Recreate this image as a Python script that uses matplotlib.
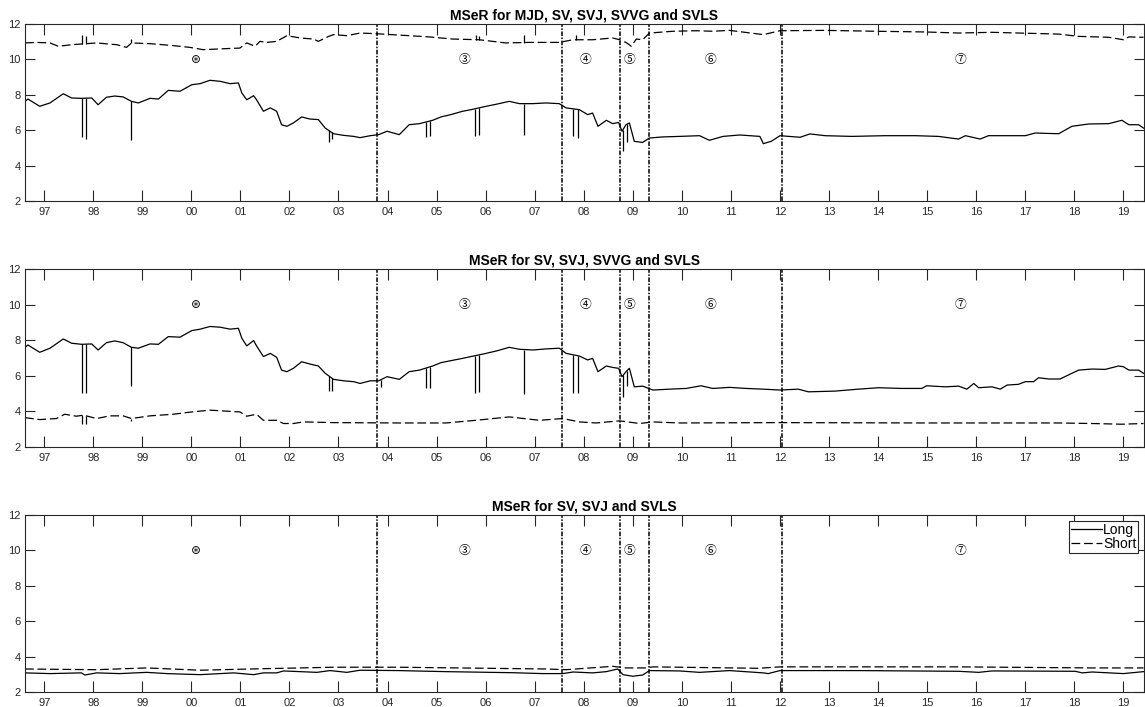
import numpy as np
import matplotlib
matplotlib.use("Agg")
import matplotlib.pyplot as plt

plt.rcParams['font.family'] = ['Liberation Sans', 'Noto Sans CJK SC', 'DejaVu Sans']

# ---- data (decimal years) ----
years = list(range(1997, 2020))
year_labels = ['97', '98', '99', '00', '01', '02', '03', '04', '05', '06', '07',
               '08', '09', '10', '11', '12', '13', '14', '15', '16', '17', '18', '19']

breaks = [2003.79, 2007.56, 2008.73, 2009.33, 2012.05]
regime_x = [2000.09, 2005.57, 2008.03, 2008.93, 2010.59, 2015.68]
regime_labels = ['⊛', '③', '④', '⑤', '⑥', '⑦']

titles = ['MSeR for MJD, SV, SVJ, SVVG and SVLS',
          'MSeR for SV, SVJ, SVVG and SVLS',
          'MSeR for SV, SVJ and SVLS']

# panel 1
p1_long_t = [1996.61, 1996.67, 1996.91, 1997.12, 1997.39, 1997.56, 1997.76, 1997.97, 1998.10, 1998.27,
             1998.44, 1998.61, 1998.78, 1998.92, 1999.16, 1999.33, 1999.53, 1999.77, 2000.01, 2000.18,
             2000.38, 2000.59, 2000.79, 2000.96, 2001.03, 2001.13, 2001.27, 2001.33, 2001.47, 2001.61,
             2001.74, 2001.84, 2001.95, 2002.08, 2002.25, 2002.42, 2002.59, 2002.73, 2002.90, 2003.10,
             2003.31, 2003.44, 2003.65, 2003.82, 2003.99, 2004.24, 2004.44, 2004.65, 2004.92, 2005.09,
             2005.29, 2005.53, 2005.70, 2006.01, 2006.24, 2006.48, 2006.69, 2006.96, 2007.23, 2007.50,
             2007.64, 2007.91, 2008.08, 2008.18, 2008.29, 2008.46, 2008.59, 2008.71, 2008.78, 2008.86,
             2008.93, 2009.03, 2009.20, 2009.34, 2009.61, 2009.95, 2010.36, 2010.56, 2010.84, 2011.18,
             2011.59, 2011.66, 2011.82, 2012.00, 2012.41, 2012.61, 2012.92, 2013.46, 2014.14, 2014.76,
             2015.23, 2015.64, 2015.78, 2016.08, 2016.25, 2017.00, 2017.20, 2017.68, 2017.95, 2018.29,
             2018.70, 2018.97, 2019.11, 2019.31, 2019.41]
p1_long_v = [7.63, 7.76, 7.35, 7.54, 8.06, 7.82, 7.80, 7.82, 7.44, 7.86,
             7.93, 7.88, 7.63, 7.54, 7.80, 7.76, 8.25, 8.20, 8.57, 8.63,
             8.82, 8.76, 8.63, 8.67, 8.10, 7.72, 7.95, 7.72, 7.07, 7.26,
             7.07, 6.31, 6.22, 6.41, 6.75, 6.63, 6.60, 6.12, 5.80, 5.71,
             5.65, 5.58, 5.69, 5.75, 5.94, 5.75, 6.31, 6.37, 6.56, 6.75,
             6.88, 7.07, 7.16, 7.35, 7.48, 7.63, 7.50, 7.50, 7.54, 7.50,
             7.26, 7.16, 6.88, 6.97, 6.22, 6.56, 6.37, 6.44, 5.94, 6.31,
             6.41, 5.37, 5.31, 5.56, 5.62, 5.65, 5.69, 5.43, 5.65, 5.73,
             5.65, 5.24, 5.37, 5.69, 5.60, 5.79, 5.69, 5.65, 5.69, 5.69,
             5.65, 5.50, 5.69, 5.50, 5.69, 5.69, 5.84, 5.80, 6.22, 6.35,
             6.37, 6.56, 6.31, 6.31, 6.12]
p1_long_spike_t = [1997.78, 1997.85, 1998.78, 2002.80, 2002.86, 2004.78, 2004.86,
                   2005.78, 2005.87, 2006.78, 2007.78, 2007.88, 2008.80, 2008.88]
p1_long_spike_v = [5.62, 5.50, 5.47, 5.31, 5.50, 5.62, 5.65,
                   5.65, 5.71, 5.71, 5.65, 5.56, 4.81, 5.31]

p1_short_t = [1996.61, 1996.84, 1997.12, 1997.29, 1997.56, 1997.76, 1998.07, 1998.48, 1998.68, 1998.78,
              1999.16, 1999.63, 1999.97, 2000.24, 2000.72, 2000.99, 2001.13, 2001.30, 2001.40, 2001.54,
              2001.74, 2001.95, 2002.22, 2002.49, 2002.59, 2002.80, 2002.90, 2003.17, 2003.44, 2003.78,
              2004.44, 2004.85, 2005.33, 2005.87, 2006.41, 2006.89, 2007.50, 2007.78, 2008.18, 2008.59,
              2008.73, 2008.86, 2008.97, 2009.07, 2009.20, 2009.34, 2009.82, 2010.29, 2010.63, 2010.97,
              2011.66, 2012.00, 2012.92, 2013.94, 2014.96, 2015.64, 2016.32, 2017.68, 2018.09, 2018.70,
              2019.00, 2019.11, 2019.41]
p1_short_v = [10.93, 10.96, 10.93, 10.74, 10.83, 10.87, 10.93, 10.83, 10.68, 10.93,
              10.89, 10.78, 10.68, 10.55, 10.61, 10.64, 10.93, 10.74, 11.02, 10.96,
              11.02, 11.34, 11.21, 11.15, 11.02, 11.30, 11.40, 11.34, 11.49, 11.45,
              11.34, 11.27, 11.15, 11.11, 10.93, 10.96, 10.96, 11.11, 11.11, 11.21,
              11.11, 10.96, 10.74, 11.15, 11.11, 11.49, 11.59, 11.62, 11.59, 11.64,
              11.40, 11.62, 11.64, 11.59, 11.55, 11.49, 11.53, 11.43, 11.30, 11.25,
              11.11, 11.27, 11.25]
p1_short_spike_t = [1997.78, 1997.85, 1998.78, 2005.80, 2005.87, 2006.78, 2007.84]
p1_short_spike_v = [11.40, 11.34, 11.15, 11.40, 11.30, 11.40, 11.40]

# panel 2
p2_long_t = [1996.61, 1996.67, 1996.91, 1997.12, 1997.39, 1997.56, 1997.76, 1997.97, 1998.10, 1998.27,
             1998.44, 1998.61, 1998.78, 1998.92, 1999.16, 1999.33, 1999.53, 1999.77, 2000.01, 2000.18,
             2000.38, 2000.59, 2000.79, 2000.96, 2001.03, 2001.13, 2001.27, 2001.33, 2001.47, 2001.61,
             2001.74, 2001.84, 2001.95, 2002.08, 2002.25, 2002.42, 2002.59, 2002.73, 2002.90, 2003.10,
             2003.31, 2003.44, 2003.65, 2003.82, 2003.99, 2004.24, 2004.44, 2004.65, 2004.92, 2005.09,
             2005.29, 2005.53, 2005.70, 2006.01, 2006.24, 2006.48, 2006.69, 2006.96, 2007.23, 2007.50,
             2007.64, 2007.91, 2008.08, 2008.18, 2008.29, 2008.46, 2008.59, 2008.71, 2008.78, 2008.86,
             2008.93, 2009.03, 2009.20, 2009.41, 2009.75, 2010.09, 2010.39, 2010.63, 2010.97, 2011.31,
             2011.66, 2012.00, 2012.37, 2012.58, 2013.12, 2013.60, 2014.01, 2014.48, 2014.89, 2014.99,
             2015.37, 2015.64, 2015.81, 2015.95, 2016.05, 2016.32, 2016.49, 2016.63, 2016.86, 2017.00,
             2017.17, 2017.27, 2017.48, 2017.71, 2017.95, 2018.09, 2018.36, 2018.63, 2018.90, 2019.00,
             2019.11, 2019.31, 2019.41]
p2_long_v = [7.60, 7.73, 7.32, 7.55, 8.07, 7.83, 7.77, 7.79, 7.45, 7.86,
             7.96, 7.86, 7.60, 7.55, 7.79, 7.77, 8.20, 8.17, 8.54, 8.62,
             8.77, 8.73, 8.62, 8.67, 8.11, 7.68, 7.98, 7.68, 7.08, 7.26,
             7.04, 6.32, 6.23, 6.42, 6.79, 6.66, 6.55, 6.14, 5.80, 5.72,
             5.67, 5.57, 5.72, 5.72, 5.95, 5.80, 6.23, 6.32, 6.55, 6.74,
             6.85, 6.98, 7.08, 7.26, 7.41, 7.60, 7.49, 7.45, 7.51, 7.55,
             7.26, 7.11, 6.89, 6.98, 6.23, 6.55, 6.47, 6.42, 5.95, 6.23,
             6.42, 5.38, 5.42, 5.20, 5.25, 5.29, 5.44, 5.29, 5.35, 5.29,
             5.25, 5.20, 5.25, 5.10, 5.14, 5.25, 5.33, 5.29, 5.29, 5.44,
             5.38, 5.42, 5.25, 5.57, 5.33, 5.38, 5.25, 5.48, 5.52, 5.67,
             5.67, 5.89, 5.82, 5.82, 6.14, 6.32, 6.38, 6.36, 6.55, 6.51,
             6.32, 6.32, 6.14]
p2_long_spike_t = [1997.78, 1997.86, 1998.78, 2002.80, 2002.86, 2003.86, 2004.78, 2004.86,
                   2005.78, 2005.87, 2006.78, 2007.78, 2007.88, 2008.80, 2008.88]
p2_long_spike_v = [5.05, 5.05, 5.44, 5.16, 5.16, 5.35, 5.33, 5.33,
                   5.05, 5.10, 4.97, 5.01, 5.05, 4.82, 5.42]

p2_short_t = [1996.61, 1996.91, 1997.25, 1997.42, 1997.66, 1997.80, 1998.07, 1998.34, 1998.61, 1998.78,
              1999.16, 1999.63, 2000.01, 2000.38, 2000.99, 2001.13, 2001.33, 2001.47, 2001.74, 2001.88,
              2002.08, 2002.29, 2002.90, 2004.22, 2005.19, 2005.80, 2006.48, 2007.10, 2007.57, 2007.91,
              2008.25, 2008.73, 2009.14, 2009.41, 2009.95, 2012.00, 2014.96, 2017.68, 2018.36, 2018.97,
              2019.41]
p2_short_v = [3.65, 3.54, 3.60, 3.84, 3.73, 3.79, 3.60, 3.75, 3.75, 3.60,
              3.75, 3.84, 3.97, 4.07, 3.97, 3.73, 3.84, 3.50, 3.50, 3.32,
              3.32, 3.41, 3.37, 3.35, 3.35, 3.50, 3.69, 3.50, 3.60, 3.41,
              3.35, 3.47, 3.32, 3.41, 3.35, 3.37, 3.35, 3.35, 3.32, 3.28,
              3.32]
p2_short_spike_t = [1997.78, 1997.86, 1998.78]
p2_short_spike_v = [3.32, 3.32, 3.45]

# panel 3
p3_long_t = [1996.61, 1997.12, 1997.76, 1997.83, 1998.07, 1998.54, 1999.09, 1999.50, 2000.18, 2000.86,
             2001.27, 2001.47, 2001.74, 2001.88, 2002.56, 2002.83, 2003.17, 2003.44, 2004.22, 2005.19,
             2006.55, 2007.16, 2007.57, 2007.78, 2008.18, 2008.46, 2008.69, 2008.80, 2009.00, 2009.20,
             2009.34, 2009.95, 2010.36, 2010.97, 2011.66, 2011.76, 2012.00, 2013.60, 2015.64, 2016.05,
             2016.32, 2018.02, 2018.16, 2018.36, 2019.00, 2019.41]
p3_long_v = [3.08, 3.04, 3.08, 2.96, 3.08, 3.04, 3.11, 3.04, 2.98, 3.08,
             2.98, 3.08, 3.08, 3.19, 3.11, 3.21, 3.11, 3.23, 3.21, 3.15,
             3.09, 3.04, 3.04, 3.13, 3.08, 3.15, 3.30, 2.98, 2.89, 2.96,
             3.21, 3.19, 3.11, 3.21, 3.08, 3.04, 3.21, 3.21, 3.17, 3.11,
             3.19, 3.17, 3.08, 3.13, 3.04, 3.15]

p3_short_t = [1996.61, 1998.07, 1999.09, 2000.18, 2001.20, 2002.22, 2002.90, 2004.22, 2007.23, 2007.64,
              2008.59, 2008.86, 2009.27, 2009.41, 2011.56, 2012.00, 2015.64, 2018.36, 2019.41]
p3_short_v = [3.30, 3.26, 3.36, 3.23, 3.30, 3.36, 3.40, 3.40, 3.30, 3.26,
              3.45, 3.36, 3.36, 3.42, 3.34, 3.42, 3.42, 3.36, 3.36]

panels = [
    (p1_long_t, p1_long_v, p1_short_t, p1_short_v,
     (p1_long_spike_t, p1_long_spike_v), (p1_short_spike_t, p1_short_spike_v)),
    (p2_long_t, p2_long_v, p2_short_t, p2_short_v,
     (p2_long_spike_t, p2_long_spike_v), (p2_short_spike_t, p2_short_spike_v)),
    (p3_long_t, p3_long_v, p3_short_t, p3_short_v, None, None),
]

# ---- figure ----
fig = plt.figure(figsize=(11.45, 7.07), dpi=100)
W, H = 1145.0, 707.0
axes_px = [(24, 201), (269, 447), (515, 692)]  # top, bottom in pixels
dash = (0, (7, 3))
edge = '#262626'

for i, (top, bot) in enumerate(axes_px):
    ax = fig.add_axes([25 / W, 1 - bot / H, 1119 / W, (bot - top) / H])
    lt, lv, st, sv, lspk, sspk = panels[i]

    l1, = ax.plot(lt, lv, color='k', lw=0.9, label='Long')
    l2, = ax.plot(st, sv, color='k', lw=0.9, linestyle=dash, label='Short')
    if lspk is not None:
        base = np.interp(lspk[0], lt, lv)
        ax.vlines(lspk[0], lspk[1], base, color='k', lw=0.9)
    if sspk is not None:
        base = np.interp(sspk[0], st, sv)
        ax.vlines(sspk[0], sspk[1], base, color='k', lw=0.9)

    for b in breaks:
        ax.axvline(b, color='k', lw=1.1, linestyle=(0, (3, 1, 1, 1)))
    for x, lab in zip(regime_x, regime_labels):
        ax.text(x, 10, lab, ha='center', va='center', fontsize=8.5,
                family=['Noto Sans CJK SC', 'DejaVu Sans'])

    ax.set_xlim(1996.61, 2019.42)
    ax.set_ylim(2, 12)
    ax.set_xticks(years)
    ax.set_xticklabels(year_labels)
    ax.set_yticks([2, 4, 6, 8, 10, 12])
    ax.tick_params(axis='x', direction='in', length=8, width=0.8, top=True,
                   labelsize=8, pad=4, colors=edge)
    ax.tick_params(axis='y', direction='in', length=7, width=0.8, right=True,
                   labelsize=8, pad=3, colors=edge)
    for s in ax.spines.values():
        s.set_color(edge)
        s.set_linewidth(0.8)
    ax.set_title(titles[i], fontsize=10, fontweight='bold', pad=3)

    if i == 2:
        leg = ax.legend(handles=[l1, l2], loc='upper right', fontsize=10,
                        fancybox=False, edgecolor=edge, framealpha=1,
                        handlelength=2.2, handletextpad=0.1, labelspacing=0.05,
                        borderpad=0.15, borderaxespad=0.4)
        leg.get_frame().set_linewidth(0.8)

fig.savefig('out.png', dpi=100)
